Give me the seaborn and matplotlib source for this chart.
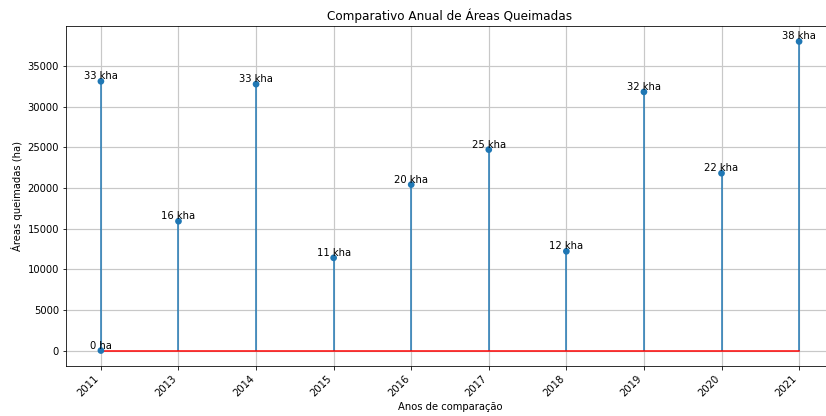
import numpy as np
import pandas as pd
import matplotlib
matplotlib.use('Agg')
import matplotlib.pyplot as plt
import seaborn as sns

# donnees
anos = ['2011', '2013', '2014', '2015', '2016', '2017', '2018', '2019', '2020', '2021']
areas = [33100, 15900, 32750, 11400, 20400, 24700, 12200, 31800, 21800, 38000]
# point isole a zero sur la premiere position
extra_ano = ['2011']
extra_area = [0]

df = pd.DataFrame({'ano': anos, 'area': areas})
df['pos'] = np.arange(len(anos))
extra = pd.DataFrame({'ano': extra_ano, 'area': extra_area})
extra['pos'] = [anos.index(a) for a in extra_ano]
pts = pd.concat([df, extra], ignore_index=True)

fig = plt.figure(figsize=(826/72, 416/72), dpi=72)
ax = fig.add_axes([66/826, 50/416, 768/826, 340/416])

ml, sl, bl = ax.stem(df['pos'], df['area'], linefmt='C0-', markerfmt=' ', basefmt='r-')
sl.set_linewidth(1.5)
bl.set_linewidth(1.5)
sns.scatterplot(data=pts, x='pos', y='area', ax=ax, color='C0', s=45,
                edgecolor='none', zorder=3)

for _, r in pts.iterrows():
    v = r['area']
    lab = f"{v/1000:.0f} kha" if v >= 1000 else f"{v:.0f} ha"
    ax.text(r['pos'], v, lab, ha='center', va='bottom', fontsize=10)

ax.set_xticks(df['pos'])
ax.set_xticklabels(anos, rotation=45, ha='right')
ax.grid(True, color='#c8c8c8', linewidth=1.2)
ax.set_axisbelow(True)
ax.set_title('Comparativo Anual de Áreas Queimadas', fontsize=12)
ax.set_xlabel('Anos de comparação')
ax.set_ylabel('Áreas queimadas (ha)')

plt.savefig('out.png', dpi=72)
